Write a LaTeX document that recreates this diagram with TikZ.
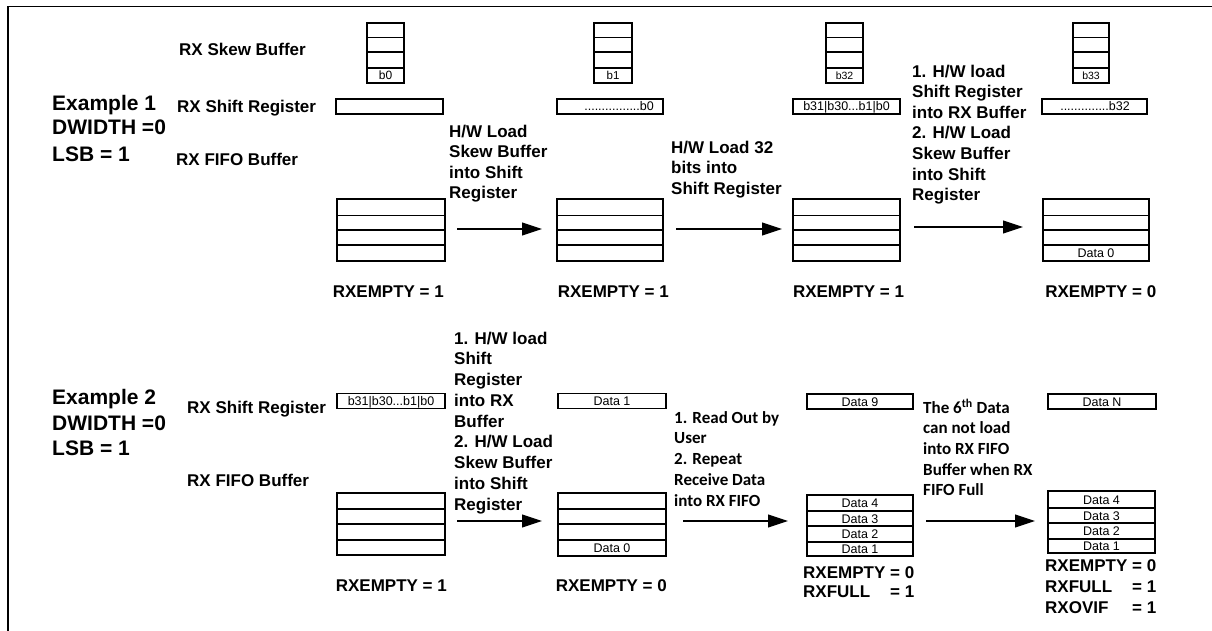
\documentclass[tikz,border=0pt]{standalone}
\usepackage{fontspec}
\setmainfont{Liberation Sans}
\newfontfamily\calfont{Carlito}
\usetikzlibrary{arrows.meta}
\newcommand\stackfour[7]{%
  \draw[bx] (#1,#3) rectangle (#2,#7);
  \draw[bx] (#1,#4) -- (#2,#4) (#1,#5) -- (#2,#5) (#1,#6) -- (#2,#6);}
\begin{document}
\begin{tikzpicture}[x=1pt,y=-1pt,
  bx/.style={draw=black,line width=1.2pt},
  small/.style={font=\fontsize{12.5}{14}\selectfont, inner sep=0, anchor=base},
  tiny/.style={font=\fontsize{10.5}{13}\selectfont, inner sep=0, anchor=base},
  lbl/.style={font=\bfseries\fontsize{17}{20.6}\selectfont, inner sep=0, anchor=base west, align=left},
  big/.style={font=\bfseries\fontsize{21}{25}\selectfont, inner sep=0, anchor=base west},
  cal/.style={font=\calfont\bfseries\fontsize{17}{20.6}\selectfont, inner sep=0, anchor=base west, align=left},
  arr/.style={line width=1.1pt, -{Triangle[length=20pt,width=13pt]}}]
\useasboundingbox (0,0) rectangle (1212,631);
% frame
\draw[line width=1.5pt] (8,631) -- (8,6.5) -- (1212,6.5);

% ===== Example 1 =====
\node[big] (ex1) at (52,110.5) {Example 1};
\node[big] (dw1) at (52,135) {DWIDTH =0};
\node[big] (lsb1) at (52,162) {LSB = 1};
\node[lbl] (skewlbl) at (179,56) {RX Skew Buffer};
\node[lbl] (shiftlbl1) at (177,112.7) {RX Shift Register};
\node[lbl] (fifolbl1) at (176,165.7) {RX FIFO Buffer};

% skew buffers
\stackfour{367}{404}{23}{37.5}{52}{68}{83}
\stackfour{594}{632}{23}{37.5}{52}{68}{83}
\stackfour{826}{863}{23}{37.5}{52}{68}{83}
\stackfour{1073}{1109}{23}{37.5}{52}{68}{83}
\node[tiny,font=\fontsize{12}{13}\selectfont] (sk1) at (385.5,80) {b0};
\node[tiny,font=\fontsize{11.5}{13}\selectfont] (sk2) at (613,80) {b1};
\node[tiny] (sk3) at (844.5,79.5) {b32};
\node[tiny] (sk4) at (1091,79.5) {b33};

% shift registers
\draw[bx] (336,99) rectangle (443,114);
\draw[bx] (557,99) rectangle (663,114);
\draw[bx] (793,99) rectangle (900,114);
\draw[bx] (1042,99) rectangle (1147,114);
\node[small,anchor=base east] (sr2) at (654,111) {................b0};
\node[small] (sr3) at (846.5,111) {b31|b30...b1|b0};
\node[small] (sr4) at (1095,111) {..............b32};

% FIFO buffers
\stackfour{337}{445}{199}{215.5}{230}{245}{261}
\stackfour{557}{663}{199}{215.5}{230}{245}{261}
\stackfour{793}{900}{199}{215.5}{230}{245}{261}
\stackfour{1043}{1149}{199}{215.5}{230}{245}{261}
\node[small] (f4) at (1096,257.5) {Data 0};

% status
\node[lbl,anchor=base] (st11) at (388.3,297) {RXEMPTY = 1};
\node[lbl,anchor=base] (st12) at (613.3,297) {RXEMPTY = 1};
\node[lbl,anchor=base] (st13) at (848.5,297) {RXEMPTY = 1};
\node[lbl,anchor=base] (st14) at (1100.8,297) {RXEMPTY = 0};

% arrows
\coordinate (a1s) at (457,229); \coordinate (a1e) at (542,229);
\coordinate (a2s) at (676,229); \coordinate (a2e) at (782,229);
\coordinate (a3s) at (914,227); \coordinate (a3e) at (1023,227);
\draw[arr] (a1s) -- (a1e);
\draw[arr] (a2s) -- (a2e);
\draw[arr] (a3s) -- (a3e);

% step texts (anchor = baseline of last line)
\node[lbl] (t1) at (449,199) {H/W Load\\Skew Buffer\\into Shift\\Register};
\node[lbl] (t2) at (671,194.3) {H/W Load 32\\bits into\\Shift Register};
\node[lbl] (t3) at (912,200.7) {1. H/W load\\Shift Register\\into RX Buffer\\2. H/W Load\\Skew Buffer\\into Shift\\Register};

% ===== Example 2 =====
\node[big] (ex2) at (52,404.3) {Example 2};
\node[big] (dw2) at (52,430) {DWIDTH =0};
\node[big] (lsb2) at (52,455.7) {LSB = 1};
\node[lbl] (shiftlbl2) at (187,413.3) {RX Shift Register};
\node[lbl] (fifolbl2) at (187,486.7) {RX FIFO Buffer};

% shift registers
\draw[bx] (337,393.5) rectangle (445,408.5);
\draw[bx] (558,393.5) rectangle (666,408.5);
\draw[bx] (807,394) rectangle (913,409);
\draw[bx] (1048,394) rectangle (1156,409);
\node[small] (r1) at (391,405.5) {b31|b30...b1|b0};
\node[small] (r2) at (612,405.5) {Data 1};
\node[small] (r3) at (860,406) {Data 9};
\node[small] (r4) at (1102,406) {Data N};

% FIFO buffers
\stackfour{337}{445}{493}{509}{524}{540}{555}
\stackfour{558}{666}{493}{509}{524}{540}{556}
\stackfour{807}{913}{495}{511}{526}{542}{556}
\stackfour{1048}{1155}{491}{508}{523}{539}{553}
\node[small] (g2) at (612,552.5) {Data 0};
\node[small] (g34) at (860,507.5) {Data 4};
\node[small] (g33) at (860,523) {Data 3};
\node[small] (g32) at (860,538.5) {Data 2};
\node[small] (g31) at (860,553.5) {Data 1};
\node[small] (g44) at (1101.5,504) {Data 4};
\node[small] (g43) at (1101.5,520) {Data 3};
\node[small] (g42) at (1101.5,535.5) {Data 2};
\node[small] (g41) at (1101.5,550.5) {Data 1};

% status
\node[lbl,anchor=base] (st21) at (391.3,591.7) {RXEMPTY = 1};
\node[lbl,anchor=base] (st22) at (611.3,591.7) {RXEMPTY = 0};
\node[lbl,font=\bfseries\fontsize{17}{19.2}\selectfont] (st23) at (803,578.3)
  {\begin{tabular}[t]{@{}l@{}r@{}}RXEMPTY&\ = 0\\RXFULL&= 1\end{tabular}};
\node[lbl,font=\bfseries\fontsize{17}{20.8}\selectfont] (st24) at (1045,571.7)
  {\begin{tabular}[t]{@{}l@{}r@{}}RXEMPTY&\ = 0\\RXFULL&= 1\\RXOVIF&= 1\end{tabular}};

% arrows
\coordinate (b1s) at (457,521); \coordinate (b1e) at (542,521);
\coordinate (b2s) at (683,521); \coordinate (b2e) at (788,521);
\coordinate (b3s) at (926,521); \coordinate (b3e) at (1035,521);
\draw[arr] (b1s) -- (b1e);
\draw[arr] (b2s) -- (b2e);
\draw[arr] (b3s) -- (b3e);

% step texts (anchor = baseline of last line)
\node[lbl,font=\bfseries\fontsize{17}{20.75}\selectfont] (u1) at (454,510) {1. H/W load\\Shift\\Register\\into RX\\Buffer\\2. H/W Load\\Skew Buffer\\into Shift\\Register};
\node[cal,font=\calfont\bfseries\fontsize{17}{20.7}\selectfont] (u2) at (674,506) {1. Read Out by\\User\\2. Repeat\\Receive Data\\into RX FIFO};
\node[cal] (u3) at (923,495.7) {The 6\textsuperscript{th} Data\\can not load\\into RX FIFO\\Buffer when RX\\FIFO Full};
\end{tikzpicture}
\end{document}
